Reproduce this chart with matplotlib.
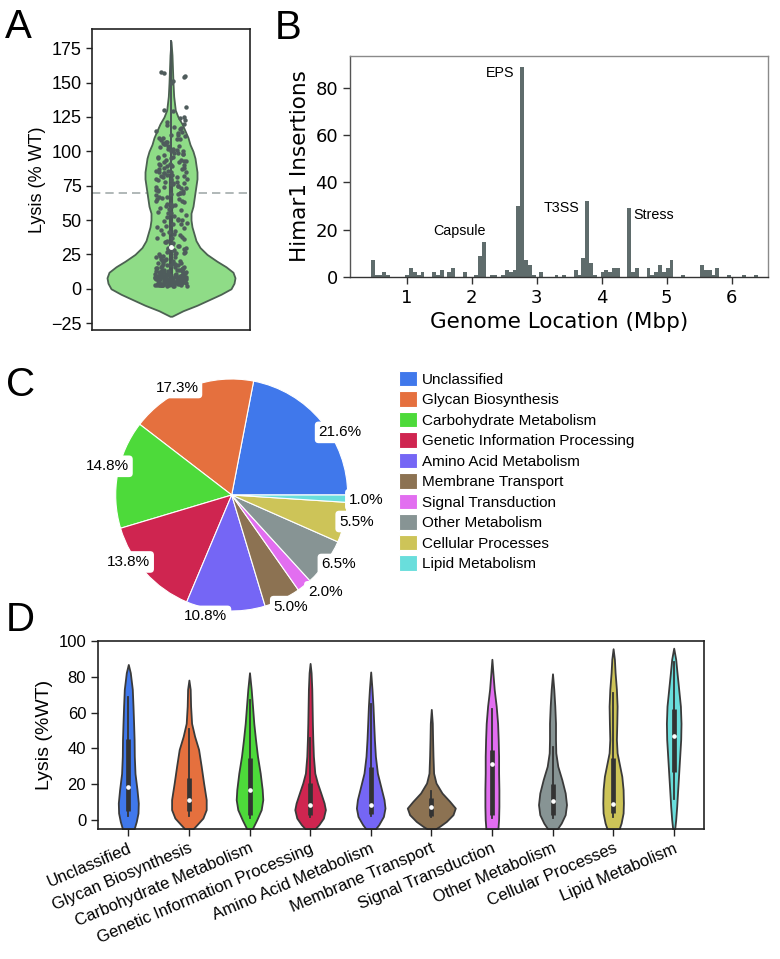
import numpy as np
import matplotlib.pyplot as plt
import seaborn as sns

plt.rcParams['font.family'] = ['Liberation Sans', 'DejaVu Sans']

# ---------------- panel A : lysis of each mutant (% WT)
lysis_points = [
    158, 157, 155, 154, 151, 150, 132, 130, 129, 125, 124, 123, 121, 120, 119,
    118, 117, 116, 115, 114, 113, 112, 112, 111, 110, 110,
    109, 109, 108, 107, 107, 106, 105, 105, 104, 104, 103, 102, 102, 101, 101, 100, 100,
    99, 99, 98, 98, 97, 96, 96, 95, 95, 94, 94, 93, 93, 92, 92, 91, 91, 90, 90, 90,
    89, 89, 88, 88, 87, 87, 86, 86, 85, 85, 85, 84, 84, 83, 83, 82, 82, 81, 81, 80, 80, 80,
    79, 79, 78, 78, 77, 77, 76, 76, 75, 75, 74, 74, 73, 73, 72, 72, 71, 71, 70, 70, 70,
    69, 69, 68, 67, 67, 66, 65, 65, 64, 64, 63, 62, 62, 61, 60, 60,
    59, 58, 57, 56, 55, 55, 54, 53, 52, 51, 50, 50,
    49, 48, 47, 47, 46, 45, 44, 43, 42, 41, 40, 40,
    39, 38, 37, 37, 36, 35, 34, 34, 33, 32, 31, 31, 30, 30,
    29, 29, 28, 28, 27, 27, 26, 26, 25, 25, 24, 24, 23, 23, 22, 22, 21, 21, 20, 20,
    19.5, 19, 19, 18.5, 18, 18, 17.5, 17, 17, 16.5, 16, 16, 15.5, 15, 15, 15,
    14.5, 14.5, 14, 14, 14, 13.5, 13.5, 13, 13, 13, 12.5, 12.5, 12, 12, 12,
    11.5, 11.5, 11, 11, 11, 10.5, 10.5, 10, 10, 10,
    2.1, 2.4, 2.6, 2.9, 3.1, 3.4, 3.6, 3.9, 4.1, 4.4, 4.6, 4.9, 5.1, 5.4, 5.6, 5.9,
    6.1, 6.4, 6.6, 6.9, 7.1, 7.4, 7.6, 7.9, 8.1, 8.4, 8.6, 8.9, 9.1, 9.4, 9.6, 9.9,
    2.0, 2.3, 2.5, 2.8, 3.0, 3.3, 3.5, 3.8, 4.0, 4.3, 4.5, 4.8, 5.0, 5.3, 5.5, 5.8,
    6.0, 6.3, 6.5, 6.8, 7.0, 7.3, 7.5, 7.8, 8.0, 8.3, 8.5, 8.8, 9.0, 9.3, 9.5, 9.8,
    2.2, 2.5, 2.7, 3.0, 3.2, 3.5, 3.7, 4.0, 4.2, 4.5, 4.7, 5.0, 5.2, 5.5, 5.7, 6.0,
    6.2, 6.5, 6.7, 7.0, 7.2, 7.5, 7.7, 8.0, 8.2, 8.5, 8.7, 9.0, 9.2, 9.5, 9.7,
]
# violin outline: lysis value and half width (px)
violin_a_y = [-20, -16, -12, -8, -4, 0, 4, 8, 12, 16, 20, 25, 30, 35, 40, 45, 50, 55, 60,
              65, 70, 75, 80, 85, 90, 95, 100, 105, 110, 115, 120, 125, 130, 140, 150,
              160, 170, 180]
violin_a_w = [1, 12, 26, 38, 50, 60, 63, 64, 62, 55, 46, 36, 29, 25, 23, 21, 20, 20, 22,
              23, 24, 25, 26, 26, 25, 24, 22, 19, 17, 14, 11, 7, 4.3, 2.7, 2, 1.5, 1, 0]
lysis_cutoff = 70

# ---------------- panel B : insertions along the genome
bin_start = 0.451
bin_width = 0.0589
insertions = [7, 1, 1, 2, 1, 0, 0, 0, 0, 1, 4, 2, 1, 2, 0, 0, 2, 1, 3, 0,
              2, 4, 0, 0, 2, 0, 0, 1, 9, 15, 0, 1, 1, 0, 1, 3, 2, 3, 30, 89,
              7, 5, 1, 0, 2, 0, 0, 0, 1, 0, 1, 0, 0, 3, 1, 8, 32, 6, 1, 0,
              2, 3, 2, 4, 4, 0, 0, 29, 2, 4, 0, 0, 4, 1, 2, 5, 2, 4, 7, 0,
              0, 1, 0, 0, 0, 0, 5, 3, 3, 1, 4, 0, 0, 1, 0, 0, 0, 1, 0, 0, 1]
peak_names = ['Capsule', 'EPS', 'T3SS', 'Stress']
peak_bins = [29, 39, 56, 67]

# ---------------- panel C : functional classes
categories = ['Unclassified', 'Glycan Biosynthesis', 'Carbohydrate Metabolism',
              'Genetic Information Processing', 'Amino Acid Metabolism',
              'Membrane Transport', 'Signal Transduction', 'Other Metabolism',
              'Cellular Processes', 'Lipid Metabolism']
shares = [21.6, 17.3, 14.8, 13.8, 10.8, 5.0, 2.0, 6.5, 5.5, 1.0]
colors = ['#4078eb', '#e5703e', '#4dda3a', '#cf2550', '#7566f5',
          '#8c7252', '#e26ef0', '#879494', '#cdc458', '#69dedc']

# ---------------- panel D : lysis per class (violin outline, half width in px)
violin_y = [
    [86.9, 82.3, 73, 63.6, 54, 45, 35.6, 26, 17, 9.5, 3.9, -0.8, -5],
    [78.2, 73, 63.6, 54, 46.8, 39.4, 30, 20.7, 11.4, 5.8, 1.1, -2.6, -5],
    [82.3, 73, 63.6, 54, 45, 35.6, 26.2, 17, 11.4, 5.8, 0.2, -5],
    [87.5, 82.3, 73, 63.6, 54, 45, 35.6, 26.2, 20.7, 15.1, 9.5, 5.8, 1.1, -2.6, -5],
    [82.7, 73, 63.6, 54, 45, 35.6, 26.2, 18.8, 11.4, 6.7, 2, -2.6, -5],
    [61.8, 54, 45, 35.6, 26.2, 20.7, 15.1, 10.5, 6.7, 3, -0.8, -3.5, -5],
    [89.8, 82.3, 73, 63.6, 54, 45, 35.6, 26.2, 17, 7.6, 0.2, -5],
    [81.7, 73, 63.6, 54, 45, 37.5, 30, 22.6, 15.1, 8.6, 3, -1.7, -5],
    [95.7, 89.8, 82.3, 73, 63.6, 54, 45, 37.5, 31.9, 24.4, 17, 9.5, 3.9, -1.7, -5],
    [96, 89.8, 82.3, 73, 63.6, 54, 45, 35.6, 26.2, 17, 7.6, 0.2, -5],
]
violin_w = [
    [0, 2, 4, 4.7, 5.3, 5.8, 6, 6.7, 8.7, 10, 9.7, 8, 5.8],
    [0, 1.3, 1.7, 2.7, 5.7, 9.7, 12.3, 14.7, 17.3, 17.3, 14, 8, 4],
    [0, 1.7, 3, 4.3, 6, 8, 10.7, 12.7, 13.3, 11.7, 7.3, 2.7],
    [0, 1, 1.7, 2, 2.3, 2.7, 3.3, 4.7, 7.3, 10.7, 14, 15.3, 13.3, 8.7, 4.7],
    [0, 1.3, 2.3, 3, 3.7, 4.7, 6.7, 10, 13.3, 14.3, 12.7, 8, 4.7],
    [0, 1, 1.3, 1.7, 2.3, 4.7, 10.7, 18.3, 24, 21.7, 15, 8.3, 4],
    [0, 1, 2.3, 4.3, 5.7, 6.3, 6.7, 6.7, 7, 7, 6.7, 6],
    [0, 1.3, 2.3, 3, 3, 3.3, 5.3, 9.3, 12.7, 14, 12.7, 8.7, 4.7],
    [0, 1.3, 2, 3.3, 4, 3.7, 3.3, 4, 6, 8.7, 10, 10.3, 10, 8, 6],
    [0, 2, 3.3, 5, 6.7, 7.3, 7, 6, 5, 4, 3, 2, 1],
]
q1 = [5, 4.8, 3, 3, 3.5, 2.1, 3, 3, 3.9, 26.7]
median = [18.6, 11.4, 17, 8.6, 8.6, 7.1, 31.5, 10.8, 9.1, 47.2]
q3 = [45, 23.5, 34.7, 20.7, 29.6, 12.3, 39.4, 20.3, 34.7, 61.8]
whisk_lo = [2, 2, 1, 1.5, 2, 1.5, 1, 1, 1.5, 11.7]
whisk_hi = [69, 51, 67, 46, 65, 16, 62, 41, 71, 88]

W, H = 780, 959
fig = plt.figure(figsize=(W / 100, H / 100), dpi=100)


def px_axes(left, top, right, bottom):
    return fig.add_axes([left / W, 1 - bottom / H, (right - left) / W, (bottom - top) / H])


# ================= A
ax_a = px_axes(92, 29, 250, 330)
a_px = 158.0  # px per x unit
ya = np.array(violin_a_y)
wa = np.array(violin_a_w) / a_px
ax_a.fill_betweenx(ya, -wa, wa, facecolor='#8fdc87', edgecolor='#4c6152', lw=1.3, zorder=1)
pts = np.array(lysis_points)
aq1, amed, aq3 = np.percentile(pts, [25, 50, 75])
ax_a.plot([0, 0], [pts.min(), 180], color='#4a5656', lw=1.4, zorder=2)
ax_a.plot([0, 0], [aq1, aq3], color='#4a5656', lw=3, zorder=2)
sns.stripplot(y=pts, ax=ax_a, color='#4f5c5c', size=3.2, jitter=0.1, linewidth=0, zorder=3)
ax_a.plot([0], [amed], 'o', color='white', ms=2.5, zorder=4)
ax_a.axhline(lysis_cutoff, color='#a3abab', lw=1.2, ls=(0, (5, 3)), zorder=0.5)
ax_a.set_xlim(-0.5, 0.5)
ax_a.set_ylim(-30, 189)
ax_a.set_xticks([])
ax_a.set_yticks(np.arange(-25, 176, 25))
ax_a.tick_params(axis='y', labelsize=13, length=4, width=1, color='#222222')
ax_a.set_ylabel('Lysis (% WT)', fontsize=13)
ax_a.set_xlabel('')
for s in ax_a.spines.values():
    s.set_color('#222222')
    s.set_linewidth(1.2)

# ================= B
ax_b = px_axes(350, 56, 768, 277)
lefts = bin_start + bin_width * np.arange(len(insertions))
ax_b.bar(lefts, insertions, width=bin_width, align='edge', color='#5f6c6c', lw=0)
for name, k in zip(peak_names, peak_bins):
    cnt = insertions[k]
    if name == 'Capsule':
        ax_b.text(lefts[k] + bin_width, cnt + 1.4, name, ha='right', va='bottom', fontsize=10.3)
    elif name == 'Stress':
        ax_b.text(lefts[k] + bin_width + 0.03, cnt + 0.3, name, ha='left', va='top', fontsize=10.3)
    else:
        ax_b.text(lefts[k] - 0.09, cnt + 0.3, name, ha='right', va='top', fontsize=10.3)
ax_b.set_xlim(0.13, 6.56)
ax_b.set_ylim(0, 93.5)
ax_b.set_xticks(range(1, 7))
ax_b.set_yticks(range(0, 81, 20))
ax_b.tick_params(labelsize=13, length=5, width=1, color='#333333')
for lab in ax_b.get_xticklabels() + ax_b.get_yticklabels():
    lab.set_family('DejaVu Sans')
ax_b.set_xlabel('Genome Location (Mbp)', fontsize=15.5, family='DejaVu Sans')
ax_b.set_ylabel('Himar1 Insertions', fontsize=15.5, family='DejaVu Sans')
for s in ax_b.spines.values():
    s.set_color('#8a8a8a')
    s.set_linewidth(1.0)
ax_b.spines['bottom'].set_color('#333333')
ax_b.spines['left'].set_color('#555555')

# ================= C
cx, cy, r = 231.7, 495, 116
ax_c = px_axes(cx - 1.25 * r, cy - 1.25 * r, cx + 1.25 * r, cy + 1.25 * r)
wedges, _ = ax_c.pie(shares, colors=colors, startangle=0, counterclock=True,
                     wedgeprops=dict(edgecolor='white', linewidth=0.8))
label_ang = [30, 117, 167, 213, 258, 298, 314, 327, 348, 358]
label_r = [1.08, 1.04, 1.10, 1.06, 1.07, 1.09, 1.16, 1.10, 1.10, 1.16]
for s, a, d in zip(shares, label_ang, label_r):
    t = np.deg2rad(a)
    ax_c.text(d * np.cos(t), d * np.sin(t), f'{s:.1f}%', ha='center', va='center', fontsize=11,
              bbox=dict(boxstyle='round,pad=0.25', fc='white', ec='none'), zorder=5)
ax_c.set_xlim(-1.25, 1.25)
ax_c.set_ylim(-1.25, 1.25)
ax_c.set_aspect('equal')
ax_c.legend(wedges, categories, loc='upper left', bbox_to_anchor=(399 / W, 1 - 371 / H),
            bbox_transform=fig.transFigure, frameon=False, fontsize=11, borderpad=0,
            borderaxespad=0, handlelength=1.18, handleheight=1.15, handletextpad=0.33,
            labelspacing=0.31)

# ================= D
ax_d = px_axes(98, 641, 704, 829)
d_px = 60.6
for i in range(len(categories)):
    yy = np.array(violin_y[i])
    ww = np.array(violin_w[i]) / d_px
    ax_d.fill_betweenx(yy, i - ww, i + ww, facecolor=colors[i], edgecolor='#3a3a3a', lw=1.3, zorder=1)
    ax_d.plot([i, i], [whisk_lo[i], whisk_hi[i]], color='#333333', lw=1.3, zorder=2)
    ax_d.plot([i, i], [q1[i], q3[i]], color='#333333', lw=3.4, solid_capstyle='butt', zorder=2)
    ax_d.plot([i], [median[i]], 'o', color='white', ms=2.3, zorder=3)
ax_d.set_xlim(-0.5, 9.5)
ax_d.set_ylim(-5, 100)
ax_d.set_xticks(range(len(categories)))
ax_d.set_xticklabels(categories, rotation=23, ha='right', rotation_mode='anchor', fontsize=12)
ax_d.set_yticks(range(0, 101, 20))
ax_d.tick_params(labelsize=12, length=5, width=1, color='#222222')
ax_d.set_ylabel('Lysis (%WT)', fontsize=14)
for s in ax_d.spines.values():
    s.set_color('#222222')
    s.set_linewidth(1.2)

# panel letters
for letter, x, y in [('A', 5, 8), ('B', 275, 9), ('C', 6, 366), ('D', 6, 601)]:
    fig.text(x / W, 1 - y / H, letter, fontsize=29, ha='left', va='top')

fig.savefig('out.png', dpi=100)
